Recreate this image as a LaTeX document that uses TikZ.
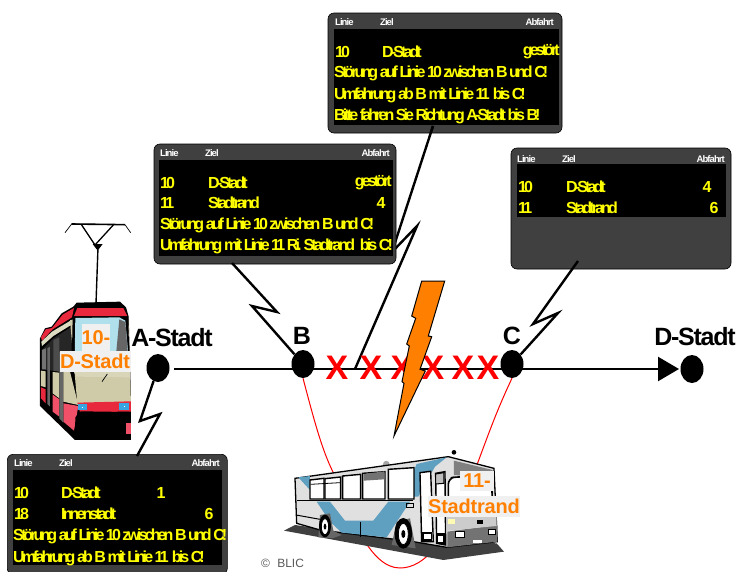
\documentclass[tikz,border=0pt]{standalone}
\usepackage{fontspec}
\usetikzlibrary{arrows.meta,shapes.geometric}
\setmainfont{Liberation Sans}
\newfontfamily\ledfont[LetterSpace=-18]{Liberation Sans Bold}
\newfontfamily\headfont[LetterSpace=-10]{Liberation Sans Bold}
\newfontfamily\stopfont[LetterSpace=-5]{Liberation Sans Bold}
\newfontfamily\routefont[LetterSpace=-1]{Liberation Sans Bold}
\newfontfamily\xfont{Liberation Sans Bold}
\definecolor{panelgray}{HTML}{404040}
\definecolor{ledyellow}{HTML}{FFFF00}
\definecolor{routeorange}{HTML}{FF8000}
\definecolor{labelbg}{HTML}{F0F0F0}
\definecolor{busblue}{HTML}{5F9FC0}
\definecolor{tramred}{HTML}{E8283C}
\definecolor{trampink}{HTML}{F05068}
\definecolor{tramcream}{HTML}{CFCBA8}
\definecolor{tramglass}{HTML}{B0E0EC}
\tikzset{
  panel/.style={draw=black,line width=0.6pt,fill=panelgray,rounded corners=6pt,inner sep=0pt},
  screen/.style={fill=black,draw=none,inner sep=0pt},
  led/.style={text=ledyellow,font=\fontsize{16}{16}\ledfont,inner sep=0pt,anchor=west},
  ledr/.style={led,anchor=east},
  ledc/.style={led,anchor=center},
  head/.style={text=white,font=\fontsize{9.5}{9.5}\headfont,inner sep=0pt,anchor=west},
  headr/.style={head,anchor=east},
  stopdot/.style={ellipse,fill=black,draw=none,inner sep=0pt,minimum width=23pt,minimum height=28pt},
  stoplabel/.style={font=\fontsize{25}{25}\stopfont,text=black,inner sep=0pt},
  callout/.style={draw=black,line width=2.4pt,line join=miter},
  crossmark/.style={text=red,font=\fontsize{34}{34}\xfont,inner sep=0pt},
  routelabel/.style={text=routeorange,font=\fontsize{20}{20}\routefont,fill=labelbg,inner sep=0pt},
  detour/.style={draw=red,line width=1pt},
  bolt/.style={draw=black,line width=1pt,fill=routeorange,line join=miter},
}
\begin{document}
\begin{tikzpicture}[x=1pt,y=-1pt]
\useasboundingbox (0,0) rectangle (737,571);

% stops
\node[stopdot] (stopA) at (158,368) {};
\node[stopdot] (stopB) at (303,364) {};
\node[stopdot] (stopC) at (512,364) {};
\node[stopdot] (stopD) at (692,369) {};
\coordinate (lineStart) at (174,369);
\coordinate (lineEnd) at (679,369);

% red detour
\draw[detour] (stopB.south) .. controls (314,420) and (322,450) .. (333,472)
  .. controls (350,515) and (370,568) .. (400,568)
  .. controls (425,568) and (450,540) .. (478,462)
  .. controls (490,430) and (497,410) .. (stopC.south);

% main line
\draw[line width=2.4pt,-{Triangle[length=21pt,width=24pt]}] (lineStart) -- (lineEnd);

% top panel and its callout, which the middle panel covers
\node[panel,minimum width=234pt,minimum height=120pt] (panelTop) at (445,73) {};
\coordinate (topFoot) at (355,369);
\draw[callout] (433,126) -- (392,252) -- (417,226) -- (topFoot);

% other panels
\node[panel,minimum width=242pt,minimum height=120pt] (panelMid) at (275,204) {};
\node[panel,minimum width=220pt,minimum height=121pt] (panelRight) at (621,208.5) {};
\node[panel,minimum width=220pt,minimum height=120pt,anchor=north west] (panelLow) at (7,454) {};

\node[screen,minimum width=225pt,minimum height=96pt,anchor=north west] (screenTop) at (334,29) {};
\node[screen,minimum width=234pt,minimum height=96pt,anchor=north west] (screenMid) at (159,160) {};
\node[screen,minimum width=209pt,minimum height=53pt,anchor=north west] (screenRight) at (517,164) {};
\node[screen,minimum width=209pt,minimum height=95pt,anchor=north west] (screenLow) at (13,470) {};
\draw[callout] (433,126) -- (430.7,133);

% top panel text
\node[head] (tH1) at (335,22) {Linie};
\node[head] (tH2) at (380,22) {Ziel};
\node[headr] (tH3) at (554,22) {Abfahrt};
\node[led] (t1) at (335,52) {10};
\node[led] (t2) at (382,52) {D-Stadt};
\node[ledr] (t3) at (560,52) {gestört};
\node[led] (t4) at (334,73) {Störung auf Linie 10 zwischen B und C!};
\node[led] (t5) at (334,95) {Umfahrung ab B mit Linie 11\ \ bis C!};
\node[led] (t6) at (334,116) {Bitte fahren Sie Richtung A-Stadt bis B!};

% middle panel text
\node[head] (mH1) at (160,153) {Linie};
\node[head] (mH2) at (205,153) {Ziel};
\node[headr] (mH3) at (390,153) {Abfahrt};
\node[led] (m1) at (160,183) {10};
\node[led] (m2) at (208,183) {D-Stadt};
\node[ledr] (m3) at (392,183) {gestört};
\node[led] (m4) at (160,203) {11};
\node[led] (m5) at (208,203) {Stadtrand};
\node[ledc] (m6) at (381,203) {4};
\node[led] (m7) at (160,225) {Störung auf Linie 10 zwischen B und C!};
\begin{scope}
\clip (159,235) rectangle (393,256);
\node[led] (m8) at (160,246) {Umfahrung mit Linie 11 Ri. Stadtrand\ \ \ bis C!};
\end{scope}

% right panel text
\node[head] (rH1) at (517,159) {Linie};
\node[head] (rH2) at (562,159) {Ziel};
\node[headr] (rH3) at (725,159) {Abfahrt};
\node[led] (r1) at (518,187) {10};
\node[led] (r2) at (566,187) {D-Stadt};
\node[ledc] (r3) at (707,187) {4};
\node[led] (r4) at (518,208) {11};
\node[led] (r5) at (566,208) {Stadtrand};
\node[ledc] (r6) at (714,208) {6};

% lower panel text
\node[head] (lH1) at (14,463) {Linie};
\node[head] (lH2) at (59,463) {Ziel};
\node[headr] (lH3) at (220,463) {Abfahrt};
\node[led] (l1) at (14,493) {10};
\node[led] (l2) at (61,493) {D-Stadt};
\node[ledc] (l3) at (161,493) {1};
\node[led] (l4) at (14,514) {18};
\node[led] (l5) at (61,514) {Innenstadt};
\node[ledc] (l6) at (209,514) {6};
\node[led] (l7) at (13,536) {Störung auf Linie 10 zwischen B und C!};
\node[led] (l8) at (13,558) {Umfahrung ab B mit Linie 11\ \ bis C!};

% callouts
\draw[callout] (232,263) -- (277,312) -- (252,306) -- (stopB);
\draw[callout] (578,261) -- (533,324) -- (558,313) -- (stopC);
\draw[callout] (stopA) -- (140,421) -- (160,414) -- (137,456);

% stop labels
\node[stoplabel] (labelA) at (172,338) {A-Stadt};
\node[stoplabel] (labelB) at (302,336) {B};
\node[stoplabel] (labelC) at (512,336) {C};
\node[stoplabel] (labelD) at (695,337) {D-Stadt};

% crosses
\node[crossmark] (x1) at (337,368) {X};
\node[crossmark] (x2) at (371,368) {X};
\node[crossmark] (x3) at (402,368) {X};
\node[crossmark] (x4) at (433,368) {X};
\node[crossmark] (x5) at (463,368) {X};
\node[crossmark] (x6) at (488,368) {X};

% lightning
\draw[bolt] (421.7,281) -- (444.7,281) -- (428.3,336) -- (431.7,336.7) -- (420,369.3)
  -- (425.3,371) -- (394,436) -- (404,383.3) -- (402,381.7) -- (409.3,346) -- (406.7,344)
  -- (415.7,318.3) -- (411.7,316) -- cycle;

% copyright
\node[text=black!65,font=\fontsize{12}{12}\selectfont,inner sep=0pt] (copyr) at (282.5,563) {©\hspace{4pt} BLIC};

% pantograph
\begin{scope}[shift={(0,210)},x=0.3333pt,y=-0.3333pt]
  \draw[line width=0.7pt] (195,68) -- (215,42) -- (375,44) -- (392,68);
  \draw[line width=1.6pt] (215,42) -- (375,44);
  \draw[line width=1.3pt] (245,45) -- (285,105) -- (340,45);
  \fill (278,102) -- (308,102) -- (296,118) -- (290,118) -- cycle;
  \draw[line width=1.4pt] (294,112) -- (288,282);
\end{scope}
% tram body
\begin{scope}[shift={(30,300)},x=0.3333pt,y=-0.3333pt]
  % silhouette
  \fill[black] (30,115) -- (45,85) -- (65,80) -- (95,40) -- (130,20) -- (140,8) -- (270,5) -- (288,22) -- (296,50)
     -- (303,290) -- (303,420) -- (135,420) -- (30,318) -- cycle;
  % side: roof bands
  \fill[tramred] (33,112) -- (47,88) -- (66,84) -- (98,44) -- (132,24) -- (126,52) -- (68,88) -- (36,122) -- cycle;
  \fill[tramcream!70!white] (34,125) -- (66,95) -- (128,58) -- (128,72) -- (70,108) -- (36,138) -- cycle;
  % side: windows
  \fill[black!85] (36,150) -- (70,115) -- (125,80) -- (125,155) -- (92,155) -- (90,215) -- (36,208) -- cycle;
  \fill[black!55] (36,150) -- (48,145) -- (48,208) -- (36,208) -- cycle;
  \fill[black!70] (70,120) -- (88,112) -- (88,215) -- (70,212) -- cycle;
  % side: lower panels
  \fill[tramcream] (33,212) -- (47,214) -- (47,262) -- (33,258) -- cycle;
  \fill[tramcream] (68,216) -- (88,218) -- (88,295) -- (68,280) -- cycle;
  \fill[tramred] (33,262) -- (47,268) -- (47,310) -- (33,295) -- cycle;
  \fill[trampink] (68,284) -- (88,298) -- (88,350) -- (68,335) -- cycle;
  \fill[trampink] (100,310) -- (145,318) -- (132,392) -- (100,365) -- cycle;
  \fill[black!60] (88,155) -- (100,155) -- (100,368) -- (88,355) -- cycle;
  \fill[black!60] (52,145) -- (60,140) -- (60,320) -- (52,312) -- cycle;
  \fill[tramcream] (100,215) -- (120,215) -- (145,315) -- (100,305) -- cycle;
  % front
  \fill[tramcream] (120,60) -- (295,60) -- (303,310) -- (142,312) -- cycle;
  \fill[tramred] (132,48) -- (142,24) -- (280,24) -- (292,48) -- cycle;
  \fill[black] (128,50) -- (294,50) -- (300,205) -- (125,205) -- cycle;
  \fill[tramglass] (136,54) -- (268,52) -- (286,62) -- (296,175) -- (134,175) -- cycle;
  \fill[black!60] (268,58) -- (286,66) -- (294,165) -- (258,165) -- cycle;
  \fill[tramcream!80!white] (125,205) -- (300,205) -- (300,232) -- (140,230) -- cycle;
  % front red band and skirt
  \fill[tramred] (142,308) -- (303,304) -- (303,335) -- (150,336) -- cycle;
  \fill[black] (136,352) -- (152,334) -- (296,336) -- (303,420) -- (135,420) -- cycle;
  \fill[trampink] (288,368) rectangle (303,402);
  \draw[line width=0.7pt] (232,222) -- (216,245);
  \fill[cyan!80!blue!80] (143,311) rectangle (171,331);
  \fill[cyan!80!blue!80] (268,309) rectangle (296,329);
  \fill[white] (155,320) rectangle (159,324);
  \fill[white] (281,318) rectangle (285,322);
\end{scope}
\node[routelabel,minimum width=28pt,minimum height=28pt] (tramLine) at (96,338) {10-};
\node[routelabel,minimum width=71pt,minimum height=21pt] (tramDest) at (95,361) {D-Stadt};

% bus
\begin{scope}[shift={(270,400)},x=0.3333pt,y=-0.3333pt]
  \fill[black!75] (42,392) -- (75,375) -- (350,415) -- (680,430) -- (702,455) -- (520,480) -- cycle;
  \fill[black] (552,157) circle (7);
  \fill[black!35] (338,195) .. controls (340,178) and (358,178) .. (360,195) -- cycle;
  % body
  \draw[line width=1.3pt,fill=black!12] (75,235) -- (535,170) -- (672,205) -- (682,425) -- (530,442) -- (430,425) -- (150,390) -- (80,370) -- cycle;
  % blue stripes
  \fill[busblue] (85,232) -- (120,228) -- (120,270) -- cycle;
  \fill[busblue] (440,192) -- (530,172) -- (495,200) -- (445,290) -- (400,290) -- cycle;
  \fill[busblue] (140,305) -- (180,305) -- (225,362) -- (310,362) -- (355,305) -- (420,305) -- (350,412) -- (215,398) -- (180,365) -- cycle;
  % windows
  \foreach \wa/\wb/\wc/\wd in {120/162/297/240, 165/212/297/236, 218/272/297/228, 278/345/297/220, 355/432/297/208}{
    \draw[line width=1.4pt,fill=white] (\wa,\wd) -- (\wb,\wd-5) -- (\wb,\wc) -- (\wa,\wc) -- cycle;
  }
  \fill[black!55] (281,222) -- (343,214) -- (343,238) -- (281,242) -- cycle;
  \draw[line width=0.8pt] (122,253) -- (210,248);
  \draw[line width=1pt] (80,302) -- (430,302);
  \draw[line width=1pt] (78,345) -- (150,358);
  \draw[line width=0.8pt] (272,365) -- (272,410);
  % door
  \draw[line width=1.4pt,fill=white] (450,218) -- (482,214) -- (490,425) -- (455,425) -- cycle;
  \draw[line width=1.4pt,fill=white] (497,220) -- (525,215) -- (527,435) -- (500,430) -- cycle;
  \draw[line width=1pt,fill=black!25] (497,222) -- (522,218) -- (522,250) -- (497,252) -- cycle;
  \fill[black] (455,395) rectangle (486,425);
  \fill[white] (462,402) rectangle (482,418);
  \fill[black] (500,400) rectangle (525,432);
  \fill[white] (505,408) rectangle (520,425);
  % windscreen
  \draw[line width=1.6pt,fill=white,rounded corners=6pt] (535,235) -- (560,230) -- (665,235) -- (668,345) -- (535,350) -- cycle;
  \fill[black!50] (552,182) -- (668,210) -- (668,235) -- (552,225) -- cycle;
  % front lower
  \fill[black!55] (532,395) -- (682,375) -- (682,425) -- (532,442) -- cycle;
  \fill[black!20] (530,350) -- (680,345) -- (680,378) -- (530,392) -- cycle;
  \fill[black] (620,360) rectangle (640,372);
  \fill[yellow!30] (533,358) rectangle (555,372);
  \draw[line width=0.8pt,fill=white] (557,394) rectangle (582,412);
  \draw[line width=0.8pt,fill=white] (656,388) rectangle (676,404);
  \fill[white] (608,420) rectangle (636,428);
  % wheels
  \fill[black!60] (145,412) -- (150,345) -- (180,340) -- (190,392) -- (215,405) -- (190,414) -- cycle;
  \fill[black] (165,378) ellipse (18 and 34);
  \draw[line width=0.8pt,fill=white] (165,380) ellipse (11 and 24);
  \fill[black] (165,380) ellipse (4 and 9);
  \fill[black!60] (365,435) -- (380,365) -- (420,355) -- (437,445) -- cycle;
  \fill[black] (400,400) ellipse (26 and 46);
  \draw[line width=0.8pt,fill=white] (400,402) ellipse (15 and 32);
  \fill[black] (400,402) ellipse (6 and 12);
  \draw[line width=1pt] (410,310) rectangle (432,322);
\end{scope}
\node[routelabel,minimum width=34pt,minimum height=20pt] (busLine) at (477,481) {11-};
\node[routelabel,minimum width=92pt,minimum height=21pt] (busDest) at (474,506) {Stadtrand};
\end{tikzpicture}
\end{document}
